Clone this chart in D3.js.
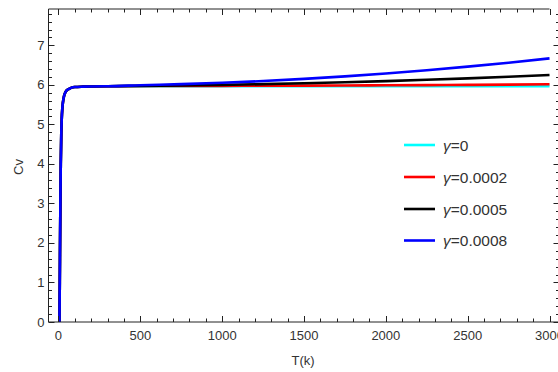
<!DOCTYPE html>
<html>
<head>
<meta charset="utf-8">
<script src="https://cdn.jsdelivr.net/npm/d3@7"></script>
<style>
  html, body { margin: 0; padding: 0; background: #fff; }
  svg { display: block; }
  text { font-family: "Liberation Sans", Arial, sans-serif; fill: #333; }
</style>
</head>
<body>
<svg id="chart" width="558" height="372"></svg>
<script>
// ---- data ----
const temps = [6, 8, 10, 12, 14, 17, 20, 23, 27, 34, 42, 50, 65, 80, 100, 150, 200, 300, 500, 750, 1000, 1250, 1500, 1750, 2000, 2250, 2500, 2750, 3000];
const rise  = [0.0, 1.0, 2.2, 3.2, 4.0, 4.75, 5.15, 5.38, 5.55, 5.72, 5.81, 5.86, 5.90, 5.93, 5.945, 5.955, 5.96, 5.965];
const cvGamma0    = rise.concat([5.968, 5.968, 5.968, 5.968, 5.968, 5.968, 5.968, 5.968, 5.968, 5.968, 5.968]);
const cvGamma0002 = rise.concat([5.97, 5.972, 5.975, 5.978, 5.981, 5.985, 5.99, 5.995, 6.0, 6.007, 6.015]);
const cvGamma0005 = rise.concat([5.975, 5.985, 6.0, 6.018, 6.04, 6.065, 6.095, 6.128, 6.165, 6.205, 6.25]);
const cvGamma0008 = rise.concat([5.99, 6.018, 6.053, 6.097, 6.151, 6.214, 6.288, 6.372, 6.462, 6.56, 6.67]);
const seriesNames  = ["γ=0", "γ=0.0002", "γ=0.0005", "γ=0.0008"];
const seriesColors = ["#00ffff", "#ff0000", "#000000", "#0000ff"];
const seriesValues = [cvGamma0, cvGamma0002, cvGamma0005, cvGamma0008];
const xTickLabels = [0, 500, 1000, 1500, 2000, 2500, 3000];
const yTickLabels = [0, 1, 2, 3, 4, 5, 6, 7];

// ---- layout ----
const svg = d3.select("#chart");
const pLeft = 48.5, pRight = 559.5, pTop = 9, pBottom = 322;
const x = d3.scaleLinear().domain([-61, 3061]).range([pLeft, pRight]);
const y = d3.scaleLinear().domain([0, 7.92]).range([pBottom, pTop]);
const axisColor = "#222";

// ---- curves ----
const line = d3.line().x(d => x(d[0])).y(d => y(d[1])).curve(d3.curveMonotoneX);
const plot = svg.append("g");
plot.append("clipPath").attr("id", "clip").append("rect")
  .attr("x", pLeft).attr("y", pTop).attr("width", pRight - pLeft).attr("height", pBottom - pTop);
const curves = plot.append("g").attr("clip-path", "url(#clip)");
seriesValues.forEach((vals, i) => {
  curves.append("path")
    .datum(temps.map((t, k) => [t, vals[k]]))
    .attr("d", line)
    .attr("fill", "none")
    .attr("stroke", seriesColors[i])
    .attr("stroke-width", 2.6)
    .attr("stroke-linejoin", "round");
});

// ---- frame ----
const frame = svg.append("g").attr("stroke", axisColor).attr("stroke-width", 1).attr("fill", "none");
frame.append("line").attr("x1", pLeft).attr("x2", pLeft).attr("y1", pTop).attr("y2", pBottom);
frame.append("line").attr("x1", pLeft).attr("x2", pRight).attr("y1", pBottom).attr("y2", pBottom);
frame.append("line").attr("x1", pLeft).attr("x2", x(3000)).attr("y1", pTop).attr("y2", pTop);
frame.append("line").attr("x1", pRight).attr("x2", pRight).attr("y1", pTop).attr("y2", pBottom);

// ticks
const xMinor = d3.range(0, 3001, 100);
const yMinor = d3.range(0, 7.81, 0.2);
const isMajorX = v => Math.abs(v % 500) < 1e-6;
const isMajorY = v => Math.abs(v - Math.round(v)) < 1e-6;
const ticks = svg.append("g").attr("stroke", axisColor).attr("stroke-width", 1);
xMinor.forEach(v => {
  const len = isMajorX(v) ? 6 : 3.5;
  const px = Math.round(x(v)) + 0.5;
  ticks.append("line").attr("x1", px).attr("x2", px).attr("y1", pBottom).attr("y2", pBottom - len);
  ticks.append("line").attr("x1", px).attr("x2", px).attr("y1", pTop).attr("y2", pTop + len);
});
yMinor.forEach(v => {
  const len = isMajorY(v) ? 6 : 3.5;
  const py = Math.round(y(v)) + 0.5;
  ticks.append("line").attr("x1", pLeft).attr("x2", pLeft + len).attr("y1", py).attr("y2", py);
  ticks.append("line").attr("x1", pRight).attr("x2", pRight - len).attr("y1", py).attr("y2", py);
});

// tick labels
svg.append("g").selectAll("text").data(xTickLabels).join("text")
  .attr("x", d => x(d)).attr("y", pBottom + 18)
  .attr("text-anchor", "middle").attr("font-size", 13)
  .text(d => d);
svg.append("g").selectAll("text").data(yTickLabels).join("text")
  .attr("x", pLeft - 4).attr("y", d => y(d) + 4.5)
  .attr("text-anchor", "end").attr("font-size", 13)
  .text(d => d);

// axis titles
svg.append("text").attr("x", 303).attr("y", 365).attr("text-anchor", "middle")
  .attr("font-size", 13).text("T(k)");
svg.append("text").attr("transform", "translate(23,167) rotate(-90)")
  .attr("text-anchor", "middle").attr("font-size", 13).text("Cv");

// legend
const legendY = [145, 177, 209, 240.5];
const legend = svg.append("g");
seriesNames.forEach((name, i) => {
  legend.append("line").attr("x1", 404).attr("x2", 435)
    .attr("y1", legendY[i]).attr("y2", legendY[i])
    .attr("stroke", seriesColors[i]).attr("stroke-width", 2.6);
  const t = legend.append("text").attr("x", 443).attr("y", legendY[i] + 5.5).attr("font-size", 15.5);
  t.append("tspan").attr("font-style", "italic").text(name.slice(0, 1));
  t.append("tspan").text(name.slice(1));
});
</script>
</body>
</html>
